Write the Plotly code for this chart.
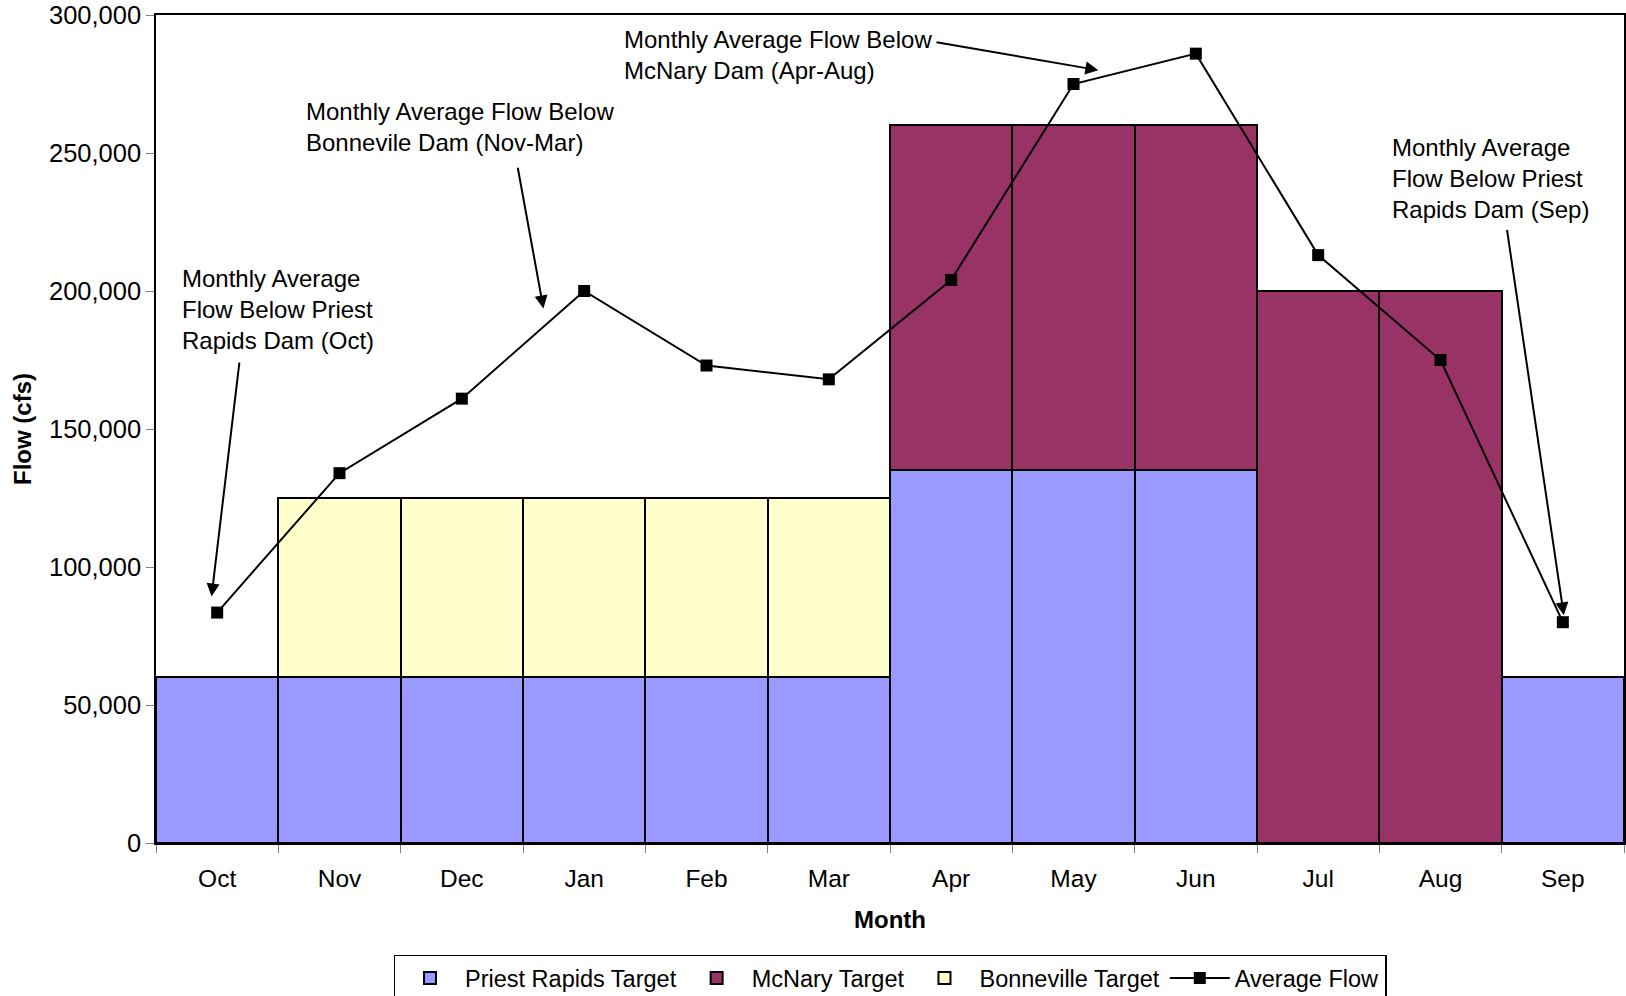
import plotly.graph_objects as go

months = ["Oct", "Nov", "Dec", "Jan", "Feb", "Mar", "Apr", "May", "Jun", "Jul", "Aug", "Sep"]
priest_rapids = [60000, 60000, 60000, 60000, 60000, 60000, 135000, 135000, 135000, 0, 0, 60000]
mcnary = [0, 0, 0, 0, 0, 0, 125000, 125000, 125000, 200000, 200000, 0]
bonneville = [0, 65000, 65000, 65000, 65000, 65000, 0, 0, 0, 0, 0, 0]
average_flow = [83500, 134000, 161000, 200000, 173000, 168000, 204000, 275000, 286000, 213000, 175000, 80000]

FONT = "Arial, Liberation Sans, sans-serif"
FS = 24

def nz(v):
    return [x if x else None for x in v]

fig = go.Figure()
fig.add_trace(go.Bar(x=months, y=nz(priest_rapids), name="Priest Rapids Target",
                     marker=dict(color="#9999FF", line=dict(color="black", width=2))))
fig.add_trace(go.Bar(x=months, y=nz(mcnary), name="McNary Target",
                     marker=dict(color="#993366", line=dict(color="black", width=2))))
fig.add_trace(go.Bar(x=months, y=nz(bonneville), name="Bonneville Target",
                     marker=dict(color="#FFFFCC", line=dict(color="black", width=2))))
fig.add_trace(go.Scatter(x=months, y=average_flow, name="Average Flow", mode="lines+markers",
                         line=dict(color="black", width=2),
                         marker=dict(symbol="square", size=12, color="black")))

texts = [
    ("Monthly Average<br>Flow Below Priest<br>Rapids Dam (Oct)", -0.304, 193400),
    ("Monthly Average Flow Below<br>Bonnevile Dam (Nov-Mar)", 0.708, 259300),
    ("Monthly Average Flow Below<br>McNary Dam (Apr-Aug)", 3.309, 285600),
    ("Monthly Average<br>Flow Below Priest<br>Rapids Dam (Sep)", 9.584, 240700),
]
annotations = []
for t, x, y in texts:
    annotations.append(dict(text=t, x=x, y=y, xref="x", yref="y", xanchor="left", yanchor="middle",
                            align="left", showarrow=False, font=dict(family=FONT, size=FS, color="black")))

arrows = [
    ((0.183, 174600), (-0.046, 89300)),
    ((2.455, 245200), (2.667, 193700)),
    ((5.868, 290200), (7.203, 280000)),
    ((10.542, 222700), (11.008, 82500)),
]
for (tx, ty), (hx, hy) in arrows:
    annotations.append(dict(text="", x=hx, y=hy, xref="x", yref="y", ax=tx, ay=ty, axref="x", ayref="y",
                            showarrow=True, arrowhead=2, arrowsize=1.3, arrowwidth=2, arrowcolor="black"))

fig.update_layout(
    width=1626, height=996,
    margin=dict(l=156, r=2, t=15, b=153, autoexpand=False),
    paper_bgcolor="white", plot_bgcolor="white",
    barmode="stack", bargap=0,
    font=dict(family=FONT, size=FS, color="black"),
    showlegend=True,
    legend=dict(orientation="h", x=0.5, xanchor="center", y=-0.135, yanchor="top",
                bordercolor="black", borderwidth=1.5, font=dict(family=FONT, size=23.5),
                traceorder="normal", itemwidth=60, tracegroupgap=0),
    annotations=annotations,
    hovermode=False,
)
fig.update_xaxes(
    type="category", tickson="boundaries", ticks="outside", ticklen=8, tickcolor="#808080",
    showline=True, linecolor="black", linewidth=2, mirror=True, showgrid=False,
    ticklabelstandoff=13, range=[-0.5, 11.5], tickfont=dict(size=24.5),
    title=dict(text="<b>Month</b>", font=dict(family=FONT, size=FS), standoff=20),
)
fig.update_yaxes(
    range=[0, 300000], dtick=50000, tickformat=",d", ticks="outside", ticklen=8, tickcolor="#808080",
    showline=True, linecolor="black", linewidth=1.5, mirror=True, showgrid=False, zeroline=False,
    ticklabelstandoff=0, tickfont=dict(size=25.5),
    title=dict(text="<b>Flow (cfs)</b>", font=dict(family=FONT, size=FS), standoff=11),
)

fig.write_html("out.html", config={"displayModeBar": False},
               post_script="document.body.style.margin='0';")
